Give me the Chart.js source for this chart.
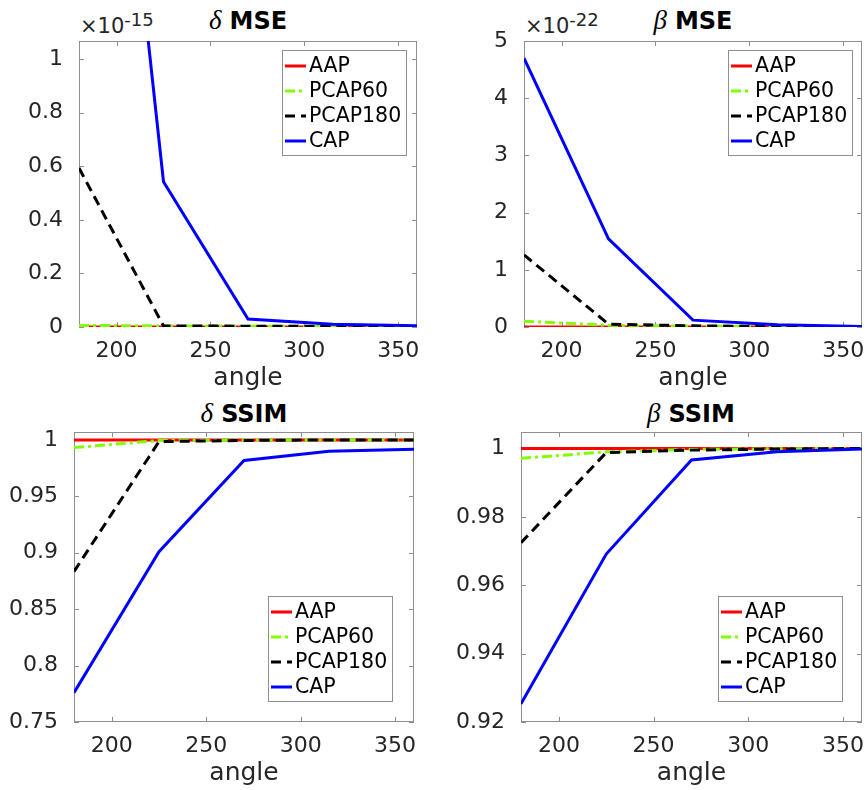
<!DOCTYPE html>
<html lang="en">
<head>
<meta charset="UTF-8">
<script src="https://cdn.jsdelivr.net/npm/chart.js"></script>
<title>MSE / SSIM</title>
<style>
  html, body { margin: 0; padding: 0; background: #fff; }
  body { width: 868px; height: 790px; overflow: hidden; position: relative; font-family: "DejaVu Sans", sans-serif; color: #262626; }
  .box { position: absolute; }
  .titulo { position: absolute; width: 240px; text-align: center; font-size: 24px; line-height: 28px; color: #000; white-space: nowrap; }
  .titulo i { font-family: "Liberation Serif", serif; font-size: 27px; margin-right: 8px; }
  .titulo b { font-weight: bold; }
  .exp { position: absolute; font-size: 21px; line-height: 24px; white-space: nowrap; color: #262626; }
  .exp sup { font-size: 18px; vertical-align: 7px; line-height: 0; }
</style>
</head>
<body>

<div class="titulo" style="left:128px; top:6px;"><i>δ</i><b>MSE</b></div>
<div class="titulo" style="left:573px; top:6px;"><i>β</i><b>MSE</b></div>
<div class="titulo" style="left:124px; top:399px;"><i>δ</i><b>SSIM</b></div>
<div class="titulo" style="left:571px; top:399px;"><i>β</i><b>SSIM</b></div>

<div class="exp" style="left:80px; top:14px;">×10<sup>-15</sup></div>
<div class="exp" style="left:525px; top:14px;">×10<sup>-22</sup></div>

<div class="box" style="left:9px; top:21px; width:414px; height:372px;"><canvas id="g1"></canvas></div>
<div class="box" style="left:454px; top:21px; width:414px; height:372px;"><canvas id="g2"></canvas></div>
<div class="box" style="left:4px; top:412px; width:416px; height:376px;"><canvas id="g3"></canvas></div>
<div class="box" style="left:451px; top:412px; width:417px; height:376px;"><canvas id="g4"></canvas></div>

<script>
// dados
const angles = [180, 225, 270, 315, 360];
const names = ['AAP', 'PCAP60', 'PCAP180', 'CAP'];
const xTicks = [200, 250, 300, 350];

// delta MSE (x 1e-15)
const dMseAAP     = [0, 0, 0, 0, 0];
const dMsePCAP60  = [0.006, 0.004, 0.003, 0.002, 0.002];
const dMsePCAP180 = [0.593, 0.004, 0.003, 0.002, 0.002];
const dMseCAP     = [3.45, 0.542, 0.030, 0.010, 0.005];
const dMseTicks   = [0, 0.2, 0.4, 0.6, 0.8, 1];

// beta MSE (x 1e-22)
const bMseAAP     = [0, 0, 0, 0, 0];
const bMsePCAP60  = [0.10, 0.03, 0.015, 0.01, 0.005];
const bMsePCAP180 = [1.26, 0.05, 0.02, 0.01, 0.0];
const bMseCAP     = [4.70, 1.54, 0.12, 0.04, 0.01];
const bMseTicks   = [0, 1, 2, 3, 4, 5];

// delta SSIM
const dSsimAAP     = [1, 1, 1, 1, 1];
const dSsimPCAP60  = [0.9932, 0.9995, 0.9999, 1, 1];
const dSsimPCAP180 = [0.8833, 0.9985, 0.9995, 1, 1];
const dSsimCAP     = [0.776, 0.901, 0.9817, 0.990, 0.9917];
const dSsimTicks   = [0.75, 0.8, 0.85, 0.9, 0.95, 1];

// beta SSIM
const bSsimAAP     = [1, 1, 1, 1, 1];
const bSsimPCAP60  = [0.9971, 0.9990, 0.9997, 0.9999, 1];
const bSsimPCAP180 = [0.9724, 0.9988, 0.9995, 0.9998, 1];
const bSsimCAP     = [0.9253, 0.9691, 0.9966, 0.9990, 0.9998];
const bSsimTicks   = [0.92, 0.94, 0.96, 0.98, 1];

// estilo das linhas
const cores = ['#ff0000', '#80ff00', '#000000', '#0000ff'];
const tracos = [[], [10, 4, 3, 4], [10, 6], []];

const corEixo = '#8f8f8f';
const corTexto = '#262626';

// caixa do eixo com ticks para dentro (estilo matlab)
const caixa = {
  id: 'caixa',
  beforeDatasetsDraw(chart) {
    const { ctx, chartArea: a, scales } = chart;
    ctx.save();
    ctx.strokeStyle = corEixo;
    ctx.lineWidth = 1;
    ctx.strokeRect(a.left + 0.5, a.top + 0.5, a.width - 1, a.height - 1);
    ctx.beginPath();
    scales.x.ticks.forEach(t => {
      const px = Math.round(scales.x.getPixelForValue(t.value)) + 0.5;
      ctx.moveTo(px, a.bottom); ctx.lineTo(px, a.bottom - 5);
      ctx.moveTo(px, a.top); ctx.lineTo(px, a.top + 5);
    });
    scales.y.ticks.forEach(t => {
      const py = Math.round(scales.y.getPixelForValue(t.value)) + 0.5;
      ctx.moveTo(a.left, py); ctx.lineTo(a.left + 5, py);
      ctx.moveTo(a.right, py); ctx.lineTo(a.right - 5, py);
    });
    ctx.stroke();
    ctx.restore();
  }
};

// legenda dentro do grafico
const legendaDentro = {
  id: 'legendaDentro',
  afterDatasetsDraw(chart, args, opts) {
    const { ctx, chartArea: a } = chart;
    const w = 125, h = 106;
    const left = a.right - opts.right - w;
    const top = opts.top != null ? a.top + opts.top : a.bottom - opts.bottom - h;
    ctx.save();
    ctx.fillStyle = '#fff';
    ctx.fillRect(left, top, w, h);
    ctx.strokeStyle = corEixo;
    ctx.lineWidth = 1;
    ctx.strokeRect(left + 0.5, top + 0.5, w - 1, h - 1);
    ctx.font = '20.5px "DejaVu Sans"';
    ctx.textBaseline = 'middle';
    chart.data.datasets.forEach((ds, i) => {
      const cy = top + 16 + i * 25;
      ctx.strokeStyle = ds.borderColor;
      ctx.lineWidth = ds.borderWidth;
      ctx.setLineDash(ds.borderDash);
      ctx.beginPath();
      ctx.moveTo(left + 3, cy);
      ctx.lineTo(left + 24, cy);
      ctx.stroke();
      ctx.setLineDash([]);
      ctx.fillStyle = '#000';
      ctx.fillText(ds.label, left + 27, cy + 1);
    });
    ctx.restore();
  }
};

function semPadding(s) {
  s.paddingLeft = 0;
  s.paddingRight = 0;
  s.paddingTop = 0;
  s.paddingBottom = 0;
}

function grafico(id, series, yMin, yMax, yTicks, legendPos, xH) {
  const datasets = series.map((vals, i) => ({
    label: names[i],
    data: angles.map((a, k) => ({ x: a, y: vals[k] })),
    borderColor: cores[i],
    borderWidth: 3,
    borderDash: tracos[i],
    pointRadius: 0,
    tension: 0,
    fill: false,
    order: 4 - i
  }));

  return new Chart(document.getElementById(id), {
    type: 'line',
    data: { datasets },
    options: {
      responsive: true,
      maintainAspectRatio: false,
      animation: false,
      events: [],
      layout: { padding: { top: 20, right: 6, left: 0, bottom: 0 } },
      plugins: {
        legend: { display: false },
        tooltip: { enabled: false },
        legendaDentro: legendPos
      },
      scales: {
        x: {
          type: 'linear',
          min: 180,
          max: 360,
          bounds: 'data',
          grid: { display: false },
          border: { display: false },
          afterBuildTicks: s => { s.ticks = xTicks.map(v => ({ value: v })); },
          afterFit: s => { s.height = xH; semPadding(s); },
          ticks: {
            color: corTexto,
            padding: 3,
            font: { family: 'DejaVu Sans', size: 22 },
            maxRotation: 0,
            callback: v => String(v)
          },
          title: {
            display: true,
            text: 'angle',
            color: corTexto,
            font: { family: 'DejaVu Sans', size: 25 },
            padding: { top: 0, bottom: 0 }
          }
        },
        y: {
          type: 'linear',
          min: yMin,
          max: yMax,
          bounds: 'data',
          grid: { display: false },
          border: { display: false },
          afterBuildTicks: s => { s.ticks = yTicks.map(v => ({ value: v })); },
          afterFit: s => { s.width = 70; semPadding(s); },
          ticks: {
            color: corTexto,
            padding: 8,
            font: { family: 'DejaVu Sans', size: 22 },
            callback: v => String(v)
          }
        }
      }
    },
    plugins: [caixa, legendaDentro]
  });
}

grafico('g1', [dMseAAP, dMsePCAP60, dMsePCAP180, dMseCAP], 0, 1.067, dMseTicks, { right: 10, top: 9 }, 66);
grafico('g2', [bMseAAP, bMsePCAP60, bMsePCAP180, bMseCAP], 0, 5, bMseTicks, { right: 9, top: 9 }, 66);
grafico('g3', [dSsimAAP, dSsimPCAP60, dSsimPCAP180, dSsimCAP], 0.75, 1.007, dSsimTicks, { right: 21, bottom: 20 }, 66);
grafico('g4', [bSsimAAP, bSsimPCAP60, bSsimPCAP180, bSsimCAP], 0.92, 1.0048, bSsimTicks, { right: 19, bottom: 20 }, 66);
</script>
</body>
</html>
